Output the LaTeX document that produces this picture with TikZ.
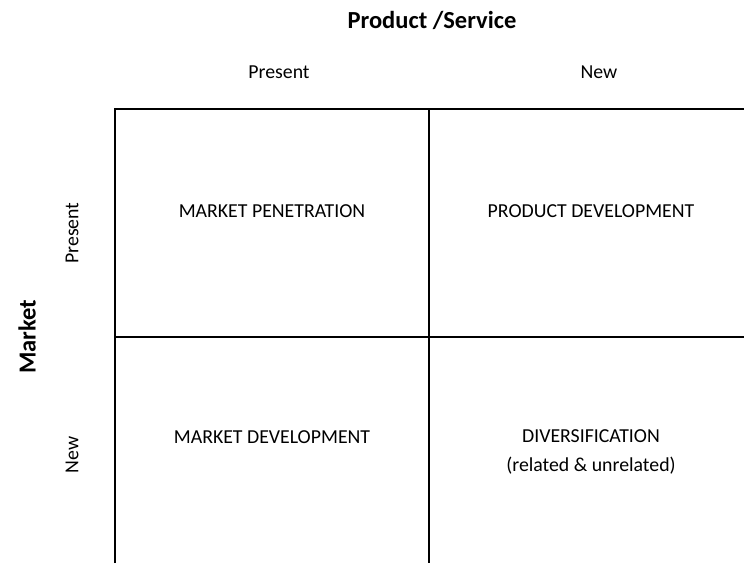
\documentclass[tikz,border=0pt]{standalone}
\usepackage{fontspec}
\setmainfont{Carlito}
\begin{document}
\begin{tikzpicture}[x=1pt,y=-1pt,
  gridline/.style={line width=2.2pt, black},
  cell/.style={font=\fontsize{19.8}{29}\selectfont, align=center},
  axis/.style={font=\fontsize{19.8}{24}\selectfont},
  head/.style={font=\fontsize{24.5}{29}\selectfont\bfseries}]
\useasboundingbox (0,0) rectangle (744,563);
% grid corners
\coordinate (tl) at (115,109);
\coordinate (tr) at (744,109);
\coordinate (bl) at (115,563);
\coordinate (tm) at (429,109);
\coordinate (bm) at (429,563);
\coordinate (ml) at (115,337);
\coordinate (mr) at (744,337);
% matrix lines (open on the right and at the bottom)
\draw[gridline] (bl) -- (tl) -- (tr);
\draw[gridline] (tm) -- (bm);
\draw[gridline] (ml) -- (mr);
% headings
\node[head] (ps) at (432,20) {Product /Service};
\node[head, rotate=90] (mk) at (27,337) {Market};
\node[axis] (cpres) at (279,72) {Present};
\node[axis] (cnew) at (599,72) {New};
\node[axis, rotate=90] (rpres) at (72,233) {Present};
\node[axis, rotate=90] (rnew) at (72,455) {New};
% quadrants
\node[cell] (mp) at (272,211) {MARKET PENETRATION};
\node[cell] (pd) at (591,211) {PRODUCT DEVELOPMENT};
\node[cell] (md) at (272,437) {MARKET DEVELOPMENT};
\node[cell] (dv) at (591,452) {DIVERSIFICATION\\(related \& unrelated)};
\end{tikzpicture}
\end{document}
